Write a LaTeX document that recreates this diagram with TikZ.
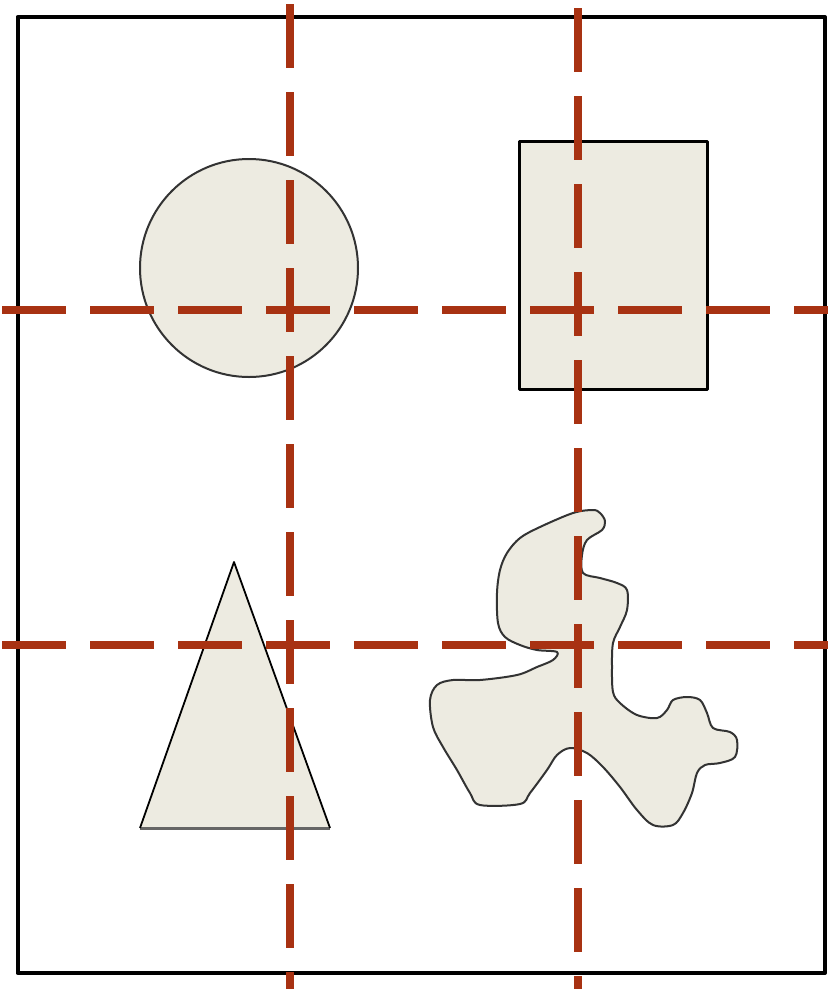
\documentclass[tikz,border=0pt]{standalone}
\usepackage{tikz}
\usepackage{xcolor}

\definecolor{guide}{RGB}{168,50,18}
\definecolor{shapefill}{RGB}{237,235,225}

\begin{document}
\begin{tikzpicture}[x=1pt,y=-1pt,line join=round,
  guideline/.style={guide,line width=8pt,dash pattern=on 64pt off 24pt}]
\useasboundingbox (0,0) rectangle (828,989);
\fill[white] (0,0) rectangle (828,989);
% outer frame
\draw[black,line width=4pt] (17.5,17) rectangle (825,973);
% circle
\fill[shapefill] (249,268) circle (109);
\draw[black!80,line width=2pt] (249,268) circle (109);
% rectangle
\fill[shapefill] (519,141) rectangle (707,389);
\draw[black,line width=3pt] (519,141) rectangle (707,389);
% triangle
\fill[shapefill] (234,562) -- (330,828) -- (140,828) -- cycle;
\draw[black!60,line width=3pt] (140,828) -- (330,828);
\draw[black,line width=1.8pt] (140,828) -- (234,562) -- (330,828);
% blob
\fill[shapefill,draw=black!80,line width=2pt] plot[smooth cycle,tension=0.55] coordinates {
  (593,510) (573,513) (540,527) (520,538) (507,553) (500,570) (497,593)
  (498,623) (505,637) (520,645) (537,650) (557,652) (553,660) (537,667)
  (517,675) (480,680) (453,680) (437,685) (430,700) (433,727) (443,747)
  (457,770) (470,793) (480,805) (520,804) (530,793) (547,770) (557,755)
  (570,748) (587,753) (603,767) (620,787) (637,810) (653,825) (673,825)
  (683,813) (692,793) (697,773) (705,765) (720,763) (735,757) (737,740)
  (730,732) (713,728) (707,713) (700,700) (687,697) (673,700) (667,710)
  (657,718) (637,715) (620,703) (613,692) (612,667) (613,643) (620,627)
  (627,610) (627,590) (617,583) (600,578) (583,573) (582,555) (587,540)
  (602,530) (605,521) (600,513)};
% guide lines
\draw[guideline] (290,4) -- (290,989);
\draw[guideline] (578,8) -- (578,989);
\draw[guideline] (2,310) -- (828,310);
\draw[guideline] (2,645) -- (828,645);
\end{tikzpicture}
\end{document}
